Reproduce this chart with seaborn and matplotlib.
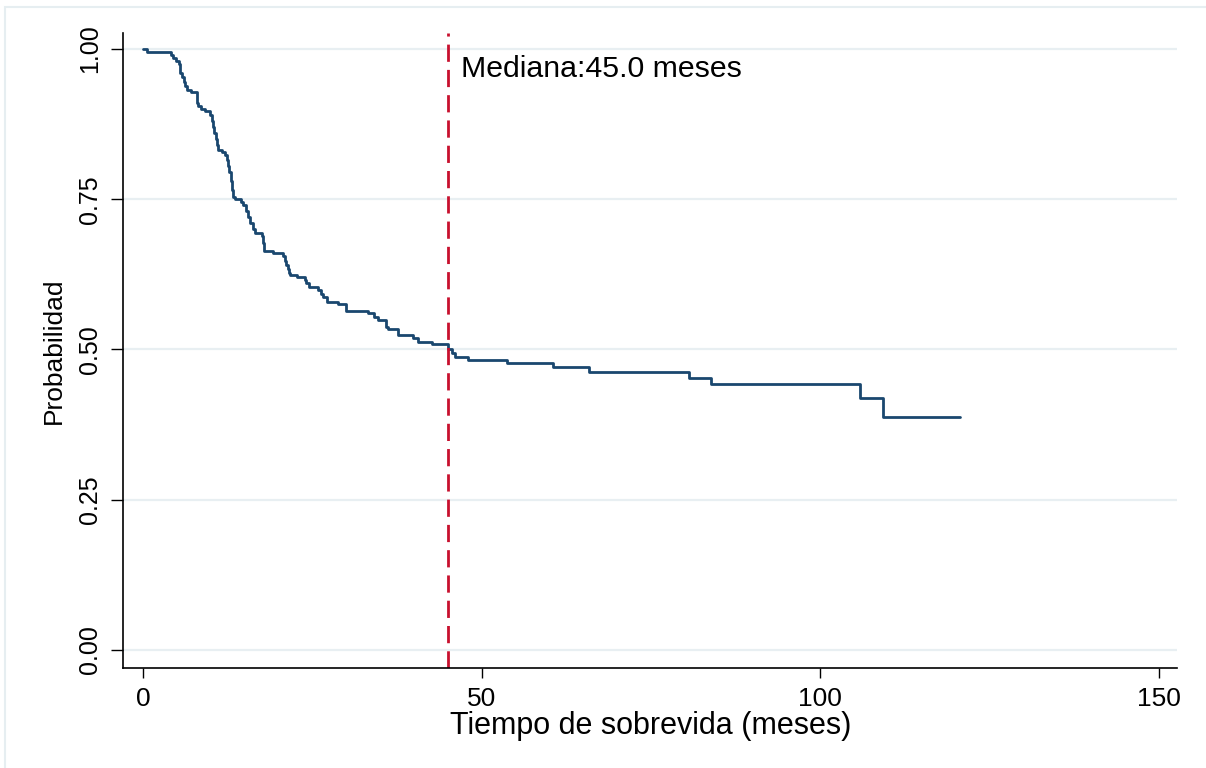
import matplotlib
matplotlib.use("Agg")
import matplotlib.pyplot as plt
from matplotlib.patches import Rectangle
import seaborn as sns
import pandas as pd

# Kaplan-Meier estimate (time of drop, survival after drop)
tiempo = [0, 0.5, 4.05, 4.4, 4.9, 5.3, 5.4, 5.7, 6.0, 6.2, 6.4, 7.0, 7.9, 7.95,
          8.1, 8.5, 9.1, 9.85, 10.1, 10.3, 10.5, 10.7, 10.9, 11.1, 11.6, 12.1,
          12.3, 12.5, 12.7, 12.9, 13.05, 13.3, 13.6, 14.5, 14.8, 15.2, 15.5, 15.8,
          16.2, 16.5, 17.5, 17.7, 17.8, 19.2, 20.7, 20.9, 21.1, 21.3, 21.5, 21.7,
          22.65, 23.9, 24.1, 24.4, 25.8, 26.2, 26.6, 27.1, 28.8, 30.0, 33.2, 34.0,
          34.7, 35.9, 36.2, 37.65, 39.9, 40.6, 42.6, 45.0, 45.6, 46.0, 48.0, 53.7,
          60.5, 65.8, 80.6, 83.8, 105.8, 109.3, 120.6]
supervivencia = [1.000, 0.995, 0.990, 0.985, 0.980, 0.975, 0.960, 0.953, 0.945, 0.938,
                 0.932, 0.929, 0.920, 0.910, 0.905, 0.900, 0.897, 0.890, 0.880, 0.870,
                 0.860, 0.850, 0.840, 0.832, 0.828, 0.824, 0.815, 0.805, 0.795, 0.780,
                 0.765, 0.754, 0.750, 0.746, 0.740, 0.730, 0.720, 0.710, 0.700, 0.693,
                 0.688, 0.677, 0.6645, 0.660, 0.655, 0.648, 0.641, 0.634, 0.627, 0.624,
                 0.620, 0.6155, 0.610, 0.6045, 0.599, 0.593, 0.588, 0.5795, 0.5757, 0.5646,
                 0.560, 0.5546, 0.549, 0.538, 0.5336, 0.524, 0.5186, 0.513, 0.5087, 0.501,
                 0.494, 0.488, 0.4825, 0.477, 0.4704, 0.4626, 0.453, 0.443, 0.420, 0.387,
                 0.387]
mediana = 45.0
y_ticks = [0, 0.25, 0.5, 0.75, 1.0]
y_labels = ["0.00", "0.25", "0.50", "0.75", "1.00"]
x_ticks = [0, 50, 100, 150]
x_labels = ["0", "50", "100", "150"]

sns.set_theme(style="white")
plt.rcParams["font.family"] = ["Liberation Sans", "DejaVu Sans"]
plt.rcParams["text.color"] = "black"
plt.rcParams["axes.labelcolor"] = "black"

df = pd.DataFrame({"tiempo": tiempo, "supervivencia": supervivencia})

fig = plt.figure(figsize=(12.06, 7.68), dpi=100)
fig.patch.set_facecolor("white")
# light outer frame of the graph region
fig.patches.append(Rectangle((5 / 1206, -0.1), 2, 1 - 7 / 768 + 0.1,
                             transform=fig.transFigure, fill=False,
                             edgecolor="#e6eef1", linewidth=1.5))
ax = fig.add_axes([123.3 / 1206, 1 - 668 / 768, (1177.3 - 123.3) / 1206, (668 - 33) / 768])

for yv in y_ticks:
    ax.axhline(yv, color="#e8eff2", linewidth=1.6, zorder=0)

sns.lineplot(data=df, x="tiempo", y="supervivencia", ax=ax, drawstyle="steps-post",
             estimator=None, sort=False, color="#1a476f", linewidth=2.0)

ax.axvline(mediana, color="#c8102e", linewidth=2.0, linestyle=(0, (6.2, 2.9)))
ax.text(46.9, 0.953, f"Mediana:{mediana:.1f} meses", fontsize=21.8,
        color="black", va="baseline", ha="left")

ax.set_xlim(-2.95, 152.7)
ax.set_ylim(-0.030, 1.0266)
ax.set_xticks(x_ticks)
ax.set_xticklabels(x_labels)
ax.set_yticks(y_ticks)
ax.set_yticklabels(y_labels, rotation=90, va="center")
ax.tick_params(axis="both", which="major", direction="out", width=1,
               color="black", labelcolor="black", left=True, bottom=True)
ax.tick_params(axis="x", pad=6, length=7.5, labelsize=19)
ax.tick_params(axis="y", pad=6, length=9, labelsize=18)

ax.set_xlabel("Tiempo de sobrevida (meses)", fontsize=22, labelpad=0, color="black")
ax.set_ylabel("Probabilidad", fontsize=19, labelpad=9, color="black")

for side in ["top", "right"]:
    ax.spines[side].set_visible(False)
for side in ["left", "bottom"]:
    ax.spines[side].set_color("black")
    ax.spines[side].set_linewidth(1.2)

fig.savefig("out.png", dpi=100, facecolor="white")
